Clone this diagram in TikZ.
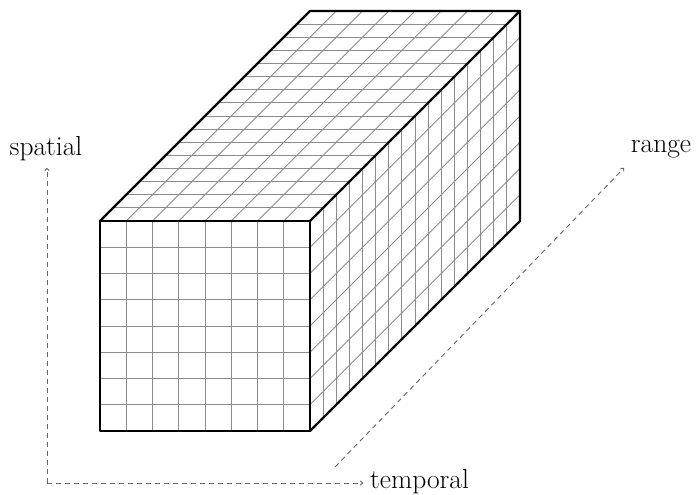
\documentclass[tikz,border=0pt]{standalone}
\usetikzlibrary{arrows.meta}
\begin{document}
\begin{tikzpicture}[x=1pt,y=-1pt,
  gridline/.style={draw=black!45, line width=0.9pt},
  edge/.style={draw=black, line width=2.3pt, line join=round},
  axis/.style={draw=black!60, line width=0.9pt, dash pattern=on 5pt off 4pt, -{To[length=3pt,width=5pt]}},
  lab/.style={font=\fontsize{27.5}{32}\selectfont, inner sep=0pt}]
\useasboundingbox (0,0) rectangle (696,495);
\fill[white] (0,0) rectangle (696,495);
% front face grid (8x8)
\foreach \i in {1,...,7} {
  \draw[gridline] (100+\i*26.25,221) -- ++(0,210);
  \draw[gridline] (100,221+\i*26.25) -- ++(210,0);
}
% top face grid
\foreach \i in {1,...,7} {
  \draw[gridline] (100+\i*26.25,221) -- (310+\i*26.25,11);
}
\foreach \j in {1,...,15} {
  \draw[gridline] (100+\j*13.125,221-\j*13.125) -- (310+\j*13.125,221-\j*13.125);
}
% right face grid
\foreach \j in {1,...,15} {
  \draw[gridline] (310+\j*13.125,221-\j*13.125) -- ++(0,210);
}
\foreach \i in {1,...,7} {
  \draw[gridline] (310,221+\i*26.25) -- (520,11+\i*26.25);
}
% edges
\draw[edge] (100,221) rectangle (310,431);
\draw[edge] (100,221) -- (310,11) -- (520,11) -- (310,221);
\draw[edge] (520,11) -- (520,221) -- (310,431);
% axes
\coordinate (o) at (47,483);
\coordinate (sp) at (47,168);
\coordinate (tp) at (363,483);
\coordinate (rs) at (335,467);
\coordinate (re) at (624,168);
\draw[axis] (o) -- (sp);
\draw[axis] (o) -- (tp);
\draw[axis] (rs) -- (re);
\node[lab] (lsp) at (46,149) {spatial};
\node[lab, anchor=west] (ltp) at (370,482) {temporal};
\node[lab] (lrg) at (661,149) {range};
\end{tikzpicture}
\end{document}
